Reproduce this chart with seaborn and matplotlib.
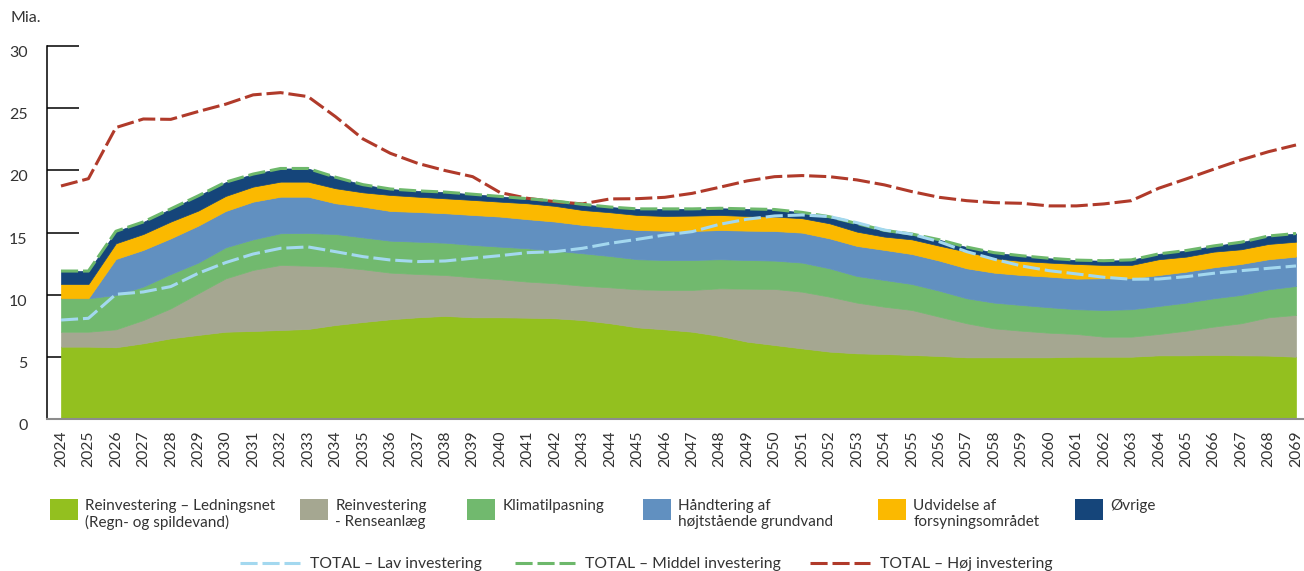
import matplotlib
matplotlib.use("Agg")
import matplotlib.pyplot as plt
import numpy as np
import pandas as pd
import seaborn as sns
from matplotlib.patches import Patch, Rectangle
from matplotlib.lines import Line2D
from matplotlib.legend_handler import HandlerPatch

# ---------------- data ----------------
years = list(range(2024, 2070))

ledningsnet = [5.82, 5.82, 5.77, 6.09, 6.49, 6.76, 7.02, 7.08, 7.16, 7.24,
               7.56, 7.80, 8.02, 8.18, 8.29, 8.18, 8.18, 8.15, 8.10, 7.96,
               7.70, 7.37, 7.21, 7.02, 6.68, 6.22, 5.95, 5.68, 5.42, 5.28,
               5.23, 5.15, 5.07, 4.96, 4.96, 4.96, 4.96, 5.01, 5.01, 5.01,
               5.12, 5.12, 5.15, 5.12, 5.10, 5.01]
renseanlaeg = [1.20, 1.20, 1.44, 1.87, 2.41, 3.35, 4.29, 4.91, 5.23, 5.09,
               4.69, 4.24, 3.75, 3.48, 3.29, 3.22, 3.06, 2.90, 2.82, 2.76,
               2.89, 3.06, 3.17, 3.36, 3.83, 4.26, 4.51, 4.56, 4.42, 4.08,
               3.80, 3.62, 3.16, 2.74, 2.33, 2.14, 1.98, 1.83, 1.61, 1.61,
               1.72, 1.98, 2.28, 2.58, 3.08, 3.36]
klimatilpasning = [2.69, 2.69, 2.77, 2.69, 2.76, 2.47, 2.50, 2.46, 2.55, 2.63,
                   2.63, 2.57, 2.57, 2.60, 2.60, 2.60, 2.62, 2.68, 2.62, 2.61,
                   2.52, 2.42, 2.41, 2.41, 2.34, 2.31, 2.28, 2.34, 2.28, 2.14,
                   2.15, 2.09, 2.09, 2.01, 2.07, 2.07, 2.05, 1.99, 2.15, 2.21,
                   2.25, 2.26, 2.28, 2.28, 2.25, 2.33]
grundvand = [0.00, 0.00, 2.89, 2.95, 2.87, 2.97, 2.92, 3.03, 2.94, 2.92,
             2.47, 2.47, 2.39, 2.39, 2.37, 2.41, 2.42, 2.34, 2.34, 2.28,
             2.31, 2.35, 2.36, 2.33, 2.35, 2.36, 2.38, 2.41, 2.41, 2.42,
             2.42, 2.41, 2.42, 2.41, 2.41, 2.41, 2.46, 2.46, 2.55, 2.49,
             2.49, 2.49, 2.49, 2.49, 2.42, 2.36]
udvidelse = [1.15, 1.15, 1.26, 1.28, 1.35, 1.21, 1.21, 1.21, 1.21, 1.21,
             1.21, 1.15, 1.29, 1.23, 1.20, 1.21, 1.20, 1.28, 1.26, 1.20,
             1.21, 1.21, 1.18, 1.24, 1.21, 1.18, 1.16, 1.16, 1.21, 1.15,
             1.07, 1.18, 1.20, 1.34, 1.16, 1.13, 1.13, 1.18, 1.07, 1.07,
             1.27, 1.21, 1.26, 1.18, 1.23, 1.20]
oevrige = [1.04, 1.04, 0.97, 0.97, 1.02, 1.19, 1.11, 1.01, 1.06, 1.06,
           0.89, 0.62, 0.48, 0.47, 0.50, 0.46, 0.42, 0.37, 0.39, 0.46,
           0.42, 0.49, 0.57, 0.54, 0.54, 0.57, 0.57, 0.47, 0.53, 0.65,
           0.50, 0.43, 0.48, 0.37, 0.45, 0.42, 0.35, 0.31, 0.34, 0.41,
           0.43, 0.49, 0.46, 0.57, 0.64, 0.66]

total_lav = [7.96, 8.10, 10.03, 10.22, 10.65, 11.72, 12.58, 13.27, 13.73, 13.84,
             13.46, 13.06, 12.79, 12.66, 12.71, 12.93, 13.14, 13.38, 13.46, 13.73,
             14.13, 14.45, 14.80, 15.07, 15.66, 16.07, 16.33, 16.41, 16.28, 15.79,
             15.20, 14.86, 14.26, 13.46, 12.85, 12.31, 11.93, 11.67, 11.40, 11.24,
             11.26, 11.45, 11.72, 11.93, 12.12, 12.31]
total_middel = [11.90, 11.90, 15.10, 15.85, 16.90, 17.95, 19.05, 19.70, 20.15, 20.15,
                19.45, 18.85, 18.50, 18.35, 18.25, 18.08, 17.90, 17.72, 17.53, 17.27,
                17.05, 16.90, 16.90, 16.90, 16.95, 16.90, 16.85, 16.62, 16.27, 15.72,
                15.17, 14.88, 14.42, 13.83, 13.38, 13.13, 12.93, 12.78, 12.73, 12.80,
                13.28, 13.55, 13.92, 14.22, 14.72, 14.92]
total_hoej = [18.74, 19.33, 23.44, 24.13, 24.10, 24.73, 25.32, 26.07, 26.25, 25.93,
              24.32, 22.53, 21.37, 20.56, 19.98, 19.49, 18.21, 17.75, 17.48, 17.30,
              17.70, 17.72, 17.83, 18.15, 18.64, 19.15, 19.49, 19.58, 19.49, 19.23,
              18.83, 18.29, 17.83, 17.56, 17.40, 17.35, 17.14, 17.14, 17.30, 17.56,
              18.56, 19.31, 20.09, 20.84, 21.50, 22.04]

area_labels = ["Reinvestering – Ledningsnet\n(Regn- og spildevand)",
               "Reinvestering\n- Renseanlæg",
               "Klimatilpasning\n ",
               "Håndtering af\nhøjtstående grundvand",
               "Udvidelse af\nforsyningsområdet",
               "Øvrige\n "]
line_labels = ["TOTAL – Lav investering",
               "TOTAL – Middel investering",
               "TOTAL – Høj investering"]
y_ticks = [0, 5, 10, 15, 20, 25, 30]
y_unit = "Mia."

# ---------------- style ----------------
area_colors = ["#93C01F", "#A5A791", "#71B96E", "#6190C0", "#FBB900", "#15457A"]
c_lav, c_mid, c_hoej = "#A3D8EF", "#6DB86B", "#B03A2A"
txt = "#333333"

sns.set_theme(style="white")
plt.rcParams["font.family"] = ["Lato", "DejaVu Sans"]

W, H = 1304, 571
fig = plt.figure(figsize=(W / 100, H / 100), dpi=100)
ax = fig.add_axes([47 / W, 1 - 419 / H, 1 - 47 / W, 373 / H])

polys = ax.stackplot(years, ledningsnet, renseanlaeg, klimatilpasning,
                     grundvand, udvidelse, oevrige, colors=area_colors,
                     zorder=1)
for p, c in zip(polys, area_colors):
    p.set_edgecolor(c)
    p.set_linewidth(0.5)

df = pd.DataFrame({"year": years, "lav": total_lav,
                   "middel": total_middel, "hoej": total_hoej})
dash = (0, (5.6, 1.6))
lw = 2.2
sns.lineplot(data=df, x="year", y="hoej", ax=ax, color=c_hoej, lw=lw,
             linestyle=dash, zorder=3)
sns.lineplot(data=df, x="year", y="middel", ax=ax, color=c_mid, lw=lw,
             linestyle=dash, zorder=3)
sns.lineplot(data=df, x="year", y="lav", ax=ax, color=c_lav, lw=lw,
             linestyle=dash, zorder=4)

px_per_year = (1296 - 61) / 45
ax.set_xlim(2024 - 14 / px_per_year, 2069 + 8 / px_per_year)
ax.set_ylim(0, 30)
ax.set_xlabel("")
ax.set_ylabel("")
ax.set_axisbelow(True)

ax.set_yticks(y_ticks)
ax.set_yticklabels([str(v) for v in y_ticks])
ax.tick_params(axis="y", direction="in", length=23, width=1.1, color="black",
               pad=14, labelsize=11.5, labelcolor=txt, left=True)
for lbl in ax.get_yticklabels():
    lbl.set_va("top")

ax.set_xticks(years)
ax.set_xticklabels([str(y) for y in years], rotation=90)
ax.tick_params(axis="x", length=0, pad=8, labelsize=11.3, labelcolor=txt)

for s in ["top", "right"]:
    ax.spines[s].set_visible(False)
ax.spines["left"].set_color("black")
ax.spines["left"].set_linewidth(1.1)
ax.spines["bottom"].set_color("#8C8C8C")
ax.spines["bottom"].set_linewidth(1.5)
ax.grid(False)

fig.text(10 / W, 1 - 18 / H, y_unit, ha="left", va="center", fontsize=11.5,
         color=txt)

# ---------------- legends ----------------
fs = 11


def raised_patch(legend, orig_handle, xdescent, ydescent, width, height,
                 fontsize):
    return Rectangle((-xdescent, -ydescent + 4.0), width, height)


patch_x = [50, 300, 467, 643, 878, 1075]
for x, lab, c in zip(patch_x, area_labels, area_colors):
    h = Patch(facecolor=c, edgecolor="none")
    fig.legend(handles=[h], labels=[lab],
               handler_map={Patch: HandlerPatch(patch_func=raised_patch)},
               loc="upper left", bbox_to_anchor=(x / W, 1 - 499 / H),
               frameon=False, borderpad=0, borderaxespad=0, fontsize=fs,
               handlelength=1.8, handleheight=1.75, handletextpad=0.5,
               labelcolor=txt)

line_x = [240, 515, 810]
for x, lab, c in zip(line_x, line_labels, [c_lav, c_mid, c_hoej]):
    fig.legend(handles=[Line2D([0], [0], color=c, lw=lw, linestyle=dash)],
               labels=[lab], loc="center left",
               bbox_to_anchor=(x / W, 1 - 564 / H), frameon=False,
               borderpad=0, borderaxespad=0, fontsize=fs + 0.3,
               handlelength=3.8, handletextpad=0.65, labelcolor=txt)

fig.savefig("out.png", dpi=100)
